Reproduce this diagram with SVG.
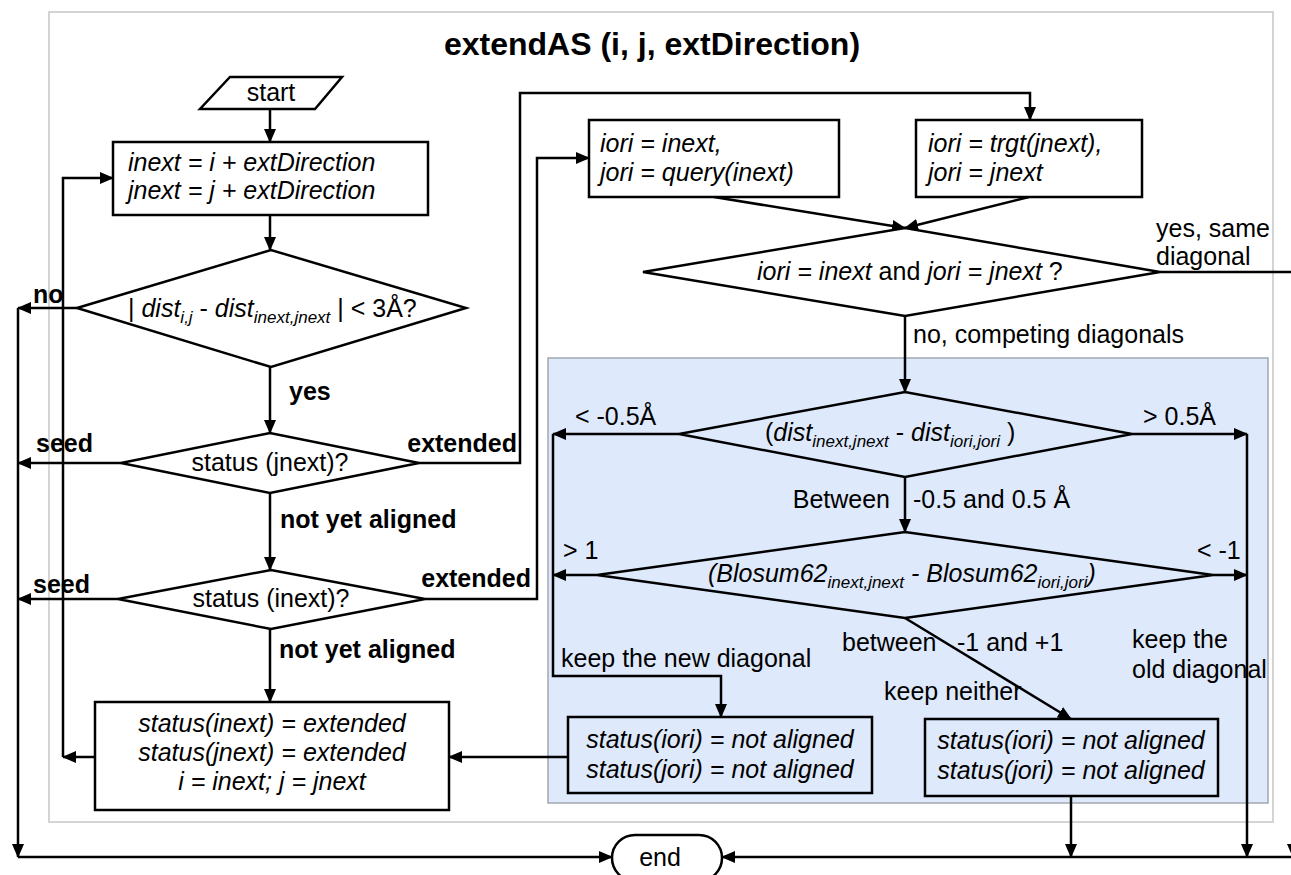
<svg xmlns="http://www.w3.org/2000/svg" width="1291" height="875" viewBox="0 0 1291 875">
<defs>
<marker id="ah" markerWidth="14" markerHeight="12" refX="13" refY="6" orient="auto" markerUnits="userSpaceOnUse"><path d="M0,0 L14,6 L0,12 z" fill="#000"/></marker>
<style>
text{font-family:"Liberation Sans",Arial,Helvetica,sans-serif;font-size:25px;fill:#000}
.b{font-weight:bold}
.i{font-style:italic}
.t{font-size:32px;font-weight:bold}
.sub{font-size:17px}
.ar{fill:none;stroke:#000;stroke-width:2.5;marker-end:url(#ah)}
.sh{fill:#fff;stroke:#000;stroke-width:2.5}
.bs{fill:none;stroke:#000;stroke-width:2.5}
.m{text-anchor:middle}
.e{text-anchor:end}
</style>
</defs>
<rect x="49" y="12" width="1224" height="810" fill="#fff" stroke="#d4d4d4" stroke-width="2"/>
<rect id="competing-region" x="548" y="358" width="720" height="445" fill="#dee9fb" stroke="#a3a9b3" stroke-width="1.5"/>
<text class="t m" x="652" y="55">extendAS (i, j, extDirection)</text>

<g id="connectors">
<path class="ar" d="M270,109 V142"/>
<path class="ar" d="M270,215 V250"/>
<path class="ar" d="M77,308 H18"/>
<path class="ar" d="M18,308 V857"/>
<path class="ar" d="M18,857 H612"/>
<path class="ar" d="M270,367 V433"/>
<path class="ar" d="M121,463 H18"/>
<path class="ar" d="M419,463 H520 V93 H1030 V120"/>
<path class="ar" d="M270,493 V570"/>
<path class="ar" d="M118,599 H18"/>
<path class="ar" d="M425,599 H537 V158 H589"/>
<path class="ar" d="M270,629 V702"/>
<path class="ar" d="M95,757 H63"/>
<path class="ar" d="M63,757 V178 H113"/>
<path class="ar" d="M714,197 L905,228"/>
<path class="ar" d="M1029,197 L905,228"/>
<path class="ar" d="M1160,272 H1293 V857"/>
<path class="ar" d="M905,316 V392"/>
<path class="ar" d="M679,434 H553"/>
<path class="ar" d="M553,434 V676 H721 V717"/>
<path class="ar" d="M1132,434 H1247"/>
<path class="ar" d="M1247,434 V857"/>
<path class="ar" d="M905,477 V532"/>
<path class="ar" d="M597,575 H553"/>
<path class="ar" d="M1213,575 H1247"/>
<path class="ar" d="M905,618 L1071,719"/>
<path class="ar" d="M568,757 H449"/>
<path class="ar" d="M1071,796 V857"/>
<path class="ar" d="M1300,857 H722"/>
</g>

<g id="labels">
<text class="b" x="33" y="303">no</text>
<text class="b" x="289" y="400">yes</text>
<text class="b" x="36" y="452">seed</text>
<text class="b e" x="517" y="452">extended</text>
<text class="b" x="280" y="528">not yet aligned</text>
<text class="b" x="33" y="593">seed</text>
<text class="b e" x="531" y="587">extended</text>
<text class="b" x="279" y="658">not yet aligned</text>
<text x="1156" y="237">yes, same</text>
<text x="1156" y="265">diagonal</text>
<text x="913" y="343">no, competing diagonals</text>
<text x="575" y="425">&lt; -0.5Å</text>
<text x="1143" y="425">&gt; 0.5Å</text>
<text class="e" x="890" y="508">Between</text>
<text x="913" y="508">-0.5 and 0.5 Å</text>
<text x="563" y="559">&gt; 1</text>
<text x="1197" y="559">&lt; -1</text>
<text x="842" y="651">between</text>
<text x="957" y="651">-1 and +1</text>
<text x="561" y="667">keep the new diagonal</text>
<text x="884" y="700">keep neither</text>
<text x="1132" y="648">keep the</text>
<text x="1132" y="678">old diagonal</text>
</g>

<g id="start">
<polygon class="sh" points="230,77 342,77 315,109 200,109"/>
<text class="m" x="271" y="101">start</text>
</g>

<g id="init">
<rect class="sh" x="113" y="142" width="315" height="73"/>
<text class="i" x="128" y="171">inext = i + extDirection</text>
<text class="i" x="128" y="199">jnext = j + extDirection</text>
</g>

<g id="dist-check">
<polygon class="sh" points="77,308 271,250 466,308 271,367"/>
<text x="128" y="317">| <tspan class="i">dist</tspan><tspan class="i sub" dy="6">i,j</tspan><tspan dy="-6"> - </tspan><tspan class="i">dist</tspan><tspan class="i sub" dy="6">inext,jnext</tspan><tspan dy="-6"> | &lt; 3Å?</tspan></text>
</g>

<g id="status-jnext">
<polygon class="sh" points="121,463 270,433 419,463 270,493"/>
<text class="m" x="270" y="471">status (jnext)?</text>
</g>

<g id="status-inext">
<polygon class="sh" points="118,599 271,570 425,599 271,629"/>
<text class="m" x="271" y="607">status (inext)?</text>
</g>

<g id="extend">
<rect class="sh" x="95" y="702" width="354" height="108"/>
<text class="i m" x="272" y="732">status(inext) = extended</text>
<text class="i m" x="272" y="761">status(jnext) = extended</text>
<text class="i m" x="272" y="790">i = inext; j = jnext</text>
</g>

<g id="ori-query">
<rect class="sh" x="589" y="120" width="250" height="77"/>
<text class="i" x="600" y="152">iori = inext,</text>
<text class="i" x="600" y="181">jori = query(inext)</text>
</g>

<g id="ori-trgt">
<rect class="sh" x="916" y="120" width="226" height="77"/>
<text class="i" x="928" y="152">iori = trgt(jnext),</text>
<text class="i" x="928" y="181">jori = jnext</text>
</g>

<g id="same-diagonal">
<polygon class="sh" points="643,272 905,228 1160,272 905,316"/>
<text x="757" y="280"><tspan class="i">iori = inext</tspan> and <tspan class="i">jori = jnext</tspan> ?</text>
</g>

<g id="dist-diff">
<polygon class="bs" points="679,434 905,392 1132,434 905,477"/>
<text x="765" y="441">(<tspan class="i">dist</tspan><tspan class="i sub" dy="6">inext,jnext</tspan><tspan dy="-6"> - </tspan><tspan class="i">dist</tspan><tspan class="i sub" dy="6">iori,jori</tspan><tspan dy="-6"> )</tspan></text>
</g>

<g id="blosum-diff">
<polygon class="bs" points="597,575 905,532 1213,575 905,618"/>
<text class="i" x="708" y="582">(Blosum62<tspan class="sub" dy="6">inext,jnext</tspan><tspan dy="-6"> - Blosum62</tspan><tspan class="sub" dy="6">iori,jori</tspan><tspan dy="-6">)</tspan></text>
</g>

<g id="keep-new">
<rect class="bs" x="568" y="717" width="304" height="76"/>
<text class="i m" x="720" y="748">status(iori) = not aligned</text>
<text class="i m" x="720" y="778">status(jori) = not aligned</text>
</g>

<g id="keep-neither">
<rect class="bs" x="925" y="719" width="293" height="77"/>
<text class="i m" x="1071" y="749">status(iori) = not aligned</text>
<text class="i m" x="1071" y="779">status(jori) = not aligned</text>
</g>

<g id="end">
<rect class="sh" x="612" y="835" width="110" height="46" rx="23"/>
<text class="m" x="660" y="866">end</text>
</g>
</svg>
